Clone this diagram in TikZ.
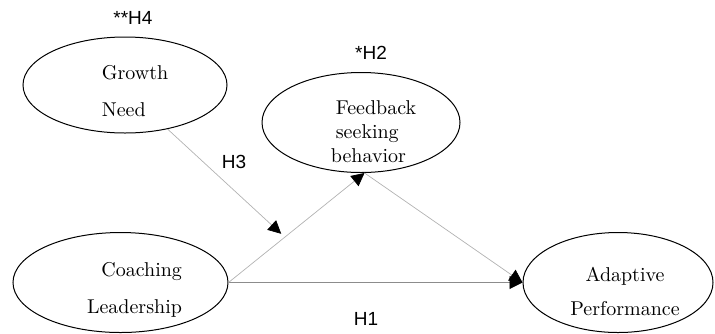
\documentclass[tikz,border=0pt]{standalone}
\usepackage{fontspec}
\newfontfamily\hypfont{Liberation Sans}
\usetikzlibrary{calc,shapes.geometric,arrows.meta}

\begin{document}
\begin{tikzpicture}[x=0.5pt,y=-0.5pt,
    var/.style={draw,ellipse,line width=0.5pt,inner sep=0pt},
    hyp/.style={font=\hypfont\fontsize{9.5}{11}\selectfont},
    rel/.style={draw=gray!60,line width=0.35pt,
      -{Triangle[length=6.5pt,width=6.5pt,color=black]}},
    mainrel/.style={rel,draw=gray!90,line width=0.45pt}]
      \useasboundingbox (0,0) rectangle (715,333);

      \node[var,minimum width=102pt,minimum height=48pt] (GN) at (125,85) {};
      \node[var,minimum width=99pt,minimum height=50pt] (FB) at (361,122.5) {};
      \node[var,minimum width=107.5pt,minimum height=50pt] (CL) at (120.5,282.5) {};
      \node[var,minimum width=95pt,minimum height=50pt] (AP) at (618,282.5) {};

      \node[align=left] (GNtext) at ($(GN)+(10,6.5)$) {Growth\\[6.5pt]Need};
      \node[align=left] (FBtext) at ($(FB)+(15,9)$) {Feedback\\seeking\\\hspace*{-2.5pt}behavior};
      \node[align=right] (CLtext) at ($(CL)+(14,7)$) {Coaching\\[6.5pt]Leadership};
      \node[align=center] (APtext) at ($(AP)+(7,8.5)$) {Adaptive\\[5pt]Performance};

      \node[hyp] (H4) at (133,18) {**H4};
      \node[hyp] (H2) at (371,53) {*H2};
      \node[hyp] (H3) at (234,162) {H3};
      \node[hyp] (H1) at (366,319) {H1};

      \coordinate (M) at ($(CL.east)!0.42!(FB.south)$);

      \draw[mainrel] (CL.east) -- (AP.west);
      \draw[rel] (CL.east) -- (FB.-86);
      \draw[rel] (FB.-86) -- (AP.west);
      \draw[rel,shorten >=2pt] (GN.-46) -- (M);
    \end{tikzpicture}
\end{document}
